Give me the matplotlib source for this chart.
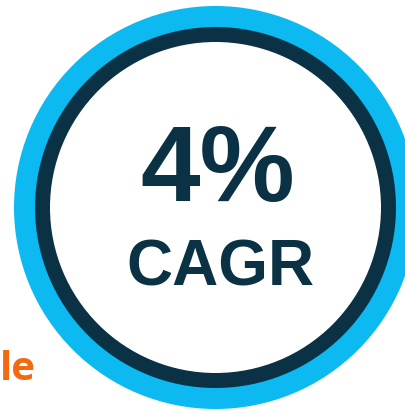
import matplotlib.patches as patches
import matplotlib.pyplot as plt

# Values shown in the badge
growth_value = "4%"
growth_label = "CAGR"
side_text = "le"

# Colours
light_blue = '#0cb9f0'
navy = '#0a3144'
orange = '#f26a10'


def draw_badge():
    fig = plt.figure(figsize=(4.05, 4.11), dpi=100)
    ax = fig.add_axes([0, 0, 1, 1])
    ax.set_xlim(0, 405)
    ax.set_ylim(411, 0)
    ax.set_aspect('equal')
    ax.axis('off')

    cx, cy = 215.5, 207.5
    # Rings: outer blue, navy band, white centre
    ax.add_patch(patches.Circle((cx, cy), 201.5, facecolor=light_blue, edgecolor='none'))
    ax.add_patch(patches.Circle((cx, cy), 180.5, facecolor=navy, edgecolor='none'))
    ax.add_patch(patches.Circle((cx, cy), 165.5, facecolor='white', edgecolor='none'))

    ax.text(218, 201, growth_value, ha='center', va='baseline',
            fontsize=77, fontweight='bold', color=navy, family='Liberation Sans')
    ax.text(220, 286, growth_label, ha='center', va='baseline',
            fontsize=46, fontweight='bold', color=navy, family='Liberation Sans')

    # Orange word at the left edge
    ax.text(0, 380, side_text, ha='left', va='baseline',
            fontsize=29, fontweight='bold', color=orange, family='Open Sans')

    fig.savefig('out.png', dpi=100)


if __name__ == "__main__":
    draw_badge()
